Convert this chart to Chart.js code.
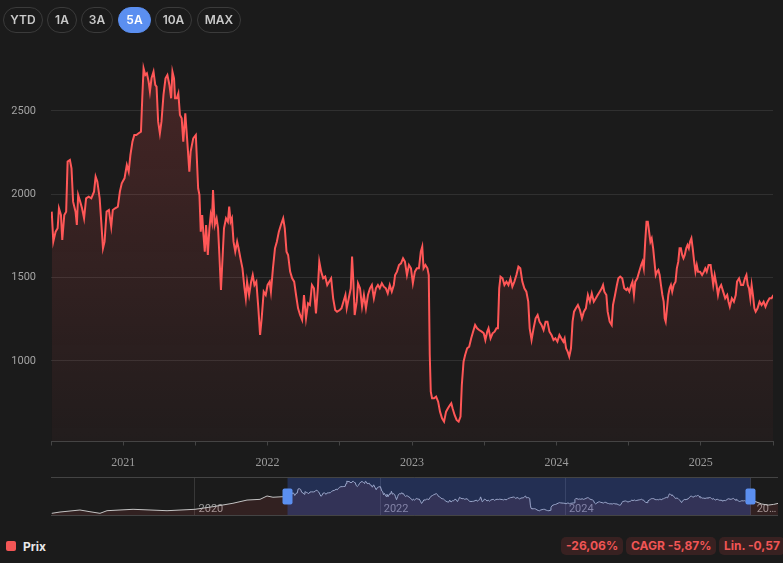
<!DOCTYPE html>
<html>
<head>
<meta charset="utf-8">
<script src="https://cdn.jsdelivr.net/npm/chart.js@4.4.1/dist/chart.umd.min.js"></script>
<style>
  html, body { margin: 0; padding: 0; background: #1b1b1b; }
  body { width: 783px; height: 563px; position: relative; overflow: hidden; font-family: Inter, Roboto, sans-serif; }
  canvas { position: absolute; left: 0; }
  #main { top: 0; }
  #nav { top: 470px; }
  .btn { position: absolute; top: 7px; height: 26px; box-sizing: border-box; border: 1px solid #3b3b3b; border-radius: 13px;
         color: #c9c9c9; font-size: 12px; font-weight: 600; text-align: center; line-height: 24px; }
  .btn.on { background: #5b8ff0; border-color: #5b8ff0; color: #fff; }
  .legend { position: absolute; left: 6px; top: 538px; height: 16px; display: flex; align-items: center; color: #e8e8e8; font-size: 12px; font-weight: 700; }
  .legend .sw { width: 10px; height: 10px; border-radius: 2px; background: #f25555; margin-right: 7px; }
  .badge { position: absolute; top: 537px; height: 18px; line-height: 18px; padding: 0 5px; border-radius: 5px;
           background: rgba(255, 80, 80, 0.13); color: #f05555; font-size: 12px; font-weight: 700; white-space: nowrap; }
</style>
</head>
<body>
<canvas id="main" width="783" height="470"></canvas>
<canvas id="nav" width="783" height="55"></canvas>
<script>
// ---- range buttons / stats ----
let rangeButtons = ['YTD', '1A', '3A', '5A', '10A', 'MAX'];
let activeRange = '5A';
let stats = ['-26,06%', 'CAGR -5,87%', 'Lin. -0,57'];
let seriesName = 'Prix';

// ---- visible window (decimal years) ----
let viewMin = 2020.5;
let viewMax = 2025.5;

// x ticks of the main chart (half years, labels on the years)
let xTickValues = [2020.5, 2021, 2021.5, 2022, 2022.5, 2023, 2023.5, 2024, 2024.5, 2025, 2025.5];
let xTickLabels = ['', '2021', '', '2022', '', '2023', '', '2024', '', '2025', ''];
// y ticks
let yTickValues = [1000, 1500, 2000, 2500];

// ---- price, 5A window ----
let prixT = [
  2020.505,2020.516,2020.532,2020.546,2020.555,2020.569,2020.578,2020.592,2020.605,2020.615,
  2020.631,2020.642,2020.653,2020.670,2020.679,2020.688,2020.702,2020.715,2020.729,2020.743,
  2020.761,2020.779,2020.798,2020.809,2020.821,2020.837,2020.848,2020.860,2020.871,2020.885,
  2020.901,2020.917,2020.928,2020.944,2020.963,2020.977,2020.990,2021.009,2021.025,2021.038,
  2021.050,2021.064,2021.077,2021.091,2021.107,2021.123,2021.132,2021.141,2021.153,2021.164,
  2021.176,2021.185,2021.196,2021.210,2021.222,2021.231,2021.242,2021.254,2021.265,2021.279,
  2021.293,2021.306,2021.320,2021.332,2021.341,2021.352,2021.359,2021.371,2021.382,2021.393,
  2021.405,2021.416,2021.430,2021.444,2021.458,2021.467,2021.485,2021.503,
  2021.519,2021.528,2021.537,2021.547,2021.556,2021.565,2021.574,2021.586,2021.597,2021.606,
  2021.615,2021.622,2021.634,2021.647,2021.657,2021.666,2021.677,2021.689,2021.698,2021.712,
  2021.725,2021.734,2021.744,2021.753,2021.764,2021.776,2021.789,2021.799,2021.812,2021.826,
  2021.840,2021.849,2021.858,2021.872,2021.886,2021.897,2021.909,2021.922,2021.936,2021.948,
  2021.959,2021.973,2021.987,2022.000,2022.014,2022.023,2022.037,2022.051,2022.064,2022.078,
  2022.092,2022.108,2022.119,2022.131,2022.142,2022.156,2022.170,2022.184,2022.197,2022.211,
  2022.225,2022.239,2022.252,2022.266,2022.280,2022.293,2022.307,2022.321,2022.335,2022.348,
  2022.358,2022.371,2022.385,2022.399,2022.413,2022.426,2022.440,2022.454,2022.468,2022.481,
  2022.500,
  2022.512,2022.525,2022.539,2022.548,2022.562,2022.576,2022.585,2022.594,2022.603,2022.617,
  2022.626,2022.640,2022.654,2022.667,2022.681,2022.695,2022.709,2022.722,2022.736,2022.750,
  2022.764,2022.777,2022.791,2022.805,2022.819,2022.832,2022.846,2022.860,2022.874,2022.883,
  2022.896,2022.910,2022.924,2022.938,2022.951,2022.965,2022.979,2022.993,2023.006,2023.020,
  2023.034,2023.048,2023.061,2023.071,2023.080,2023.093,2023.107,2023.116,2023.123,2023.130,
  2023.139,2023.153,2023.167,2023.181,2023.194,2023.208,2023.222,2023.236,2023.249,2023.263,
  2023.272,2023.281,2023.295,2023.309,2023.323,2023.336,2023.345,2023.357,2023.368,2023.382,
  2023.396,2023.410,2023.423,2023.437,2023.451,2023.465,2023.483,2023.497,
  2023.508,2023.521,2023.530,2023.544,2023.558,2023.572,2023.585,2023.595,2023.604,2023.613,
  2023.627,2023.640,2023.654,2023.668,2023.682,2023.695,2023.709,2023.723,2023.737,2023.750,
  2023.764,2023.778,2023.792,2023.805,2023.815,2023.828,2023.842,2023.856,2023.870,2023.883,
  2023.897,2023.911,2023.925,2023.938,2023.952,2023.966,2023.980,2023.993,2024.007,2024.021,
  2024.034,2024.048,2024.057,2024.067,2024.078,2024.089,2024.101,2024.112,2024.122,2024.135,
  2024.149,2024.163,2024.177,2024.190,2024.204,2024.218,2024.232,2024.245,2024.259,2024.273,
  2024.286,2024.300,2024.314,2024.323,2024.332,2024.346,2024.355,2024.369,2024.383,2024.392,
  2024.406,2024.419,2024.429,2024.442,2024.456,2024.470,2024.484,2024.493,
  2024.505,2024.518,2024.527,2024.537,2024.546,2024.560,2024.573,2024.587,2024.596,2024.605,
  2024.615,2024.624,2024.633,2024.642,2024.651,2024.660,2024.670,2024.679,2024.688,2024.697,
  2024.706,2024.715,2024.724,2024.734,2024.743,2024.750,2024.757,2024.766,2024.775,2024.784,
  2024.793,2024.802,2024.812,2024.825,2024.834,2024.844,2024.853,2024.862,2024.871,2024.880,
  2024.889,2024.899,2024.908,2024.917,2024.926,2024.935,2024.944,2024.954,2024.963,2024.972,
  2024.981,2024.995,2025.009,2025.022,2025.031,2025.041,2025.054,2025.068,2025.077,2025.086,
  2025.096,2025.109,2025.119,2025.128,2025.141,2025.155,2025.169,2025.183,2025.192,2025.201,
  2025.215,2025.229,2025.242,2025.251,2025.265,2025.279,2025.293,2025.306,2025.316,2025.325,
  2025.334,2025.343,2025.352,2025.361,2025.371,2025.380,2025.393,2025.407,2025.421,2025.435,
  2025.448,2025.462,2025.476,2025.490,2025.503
];
let prixV = [
  1896,1716,1776,1796,1916,1876,1726,1876,1896,2196,
  2206,2156,1956,1896,1816,1996,1956,1916,1856,1976,
  1986,1976,2016,2106,2076,1976,1836,1676,1716,1896,
  1906,1806,1906,1916,1926,2016,2066,2096,2176,2136,
  2236,2316,2356,2356,2366,2376,2576,2756,2716,2726,
  2676,2616,2696,2736,2656,2646,2436,2366,2436,2596,
  2696,2716,2656,2576,2736,2696,2576,2576,2606,2476,
  2456,2316,2486,2316,2136,2256,2336,2356,
  2036,1996,1776,1876,1756,1656,1816,1636,1796,1876,
  1836,2026,1816,1856,1796,1636,1426,1636,1796,1856,
  1836,1926,1836,1856,1716,1656,1716,1676,1616,1556,
  1436,1376,1476,1396,1476,1516,1456,1476,1316,1156,
  1256,1416,1396,1456,1476,1416,1556,1676,1716,1776,
  1816,1856,1796,1656,1636,1536,1496,1476,1396,1316,
  1276,1246,1396,1256,1346,1336,1456,1436,1286,1436,
  1596,1536,1496,1506,1456,1476,1496,1376,1306,1296,
  1306,
  1316,1356,1396,1316,1376,1436,1626,1476,1276,1356,
  1466,1436,1326,1396,1316,1396,1436,1456,1376,1436,
  1456,1436,1466,1446,1436,1406,1456,1416,1456,1516,
  1536,1576,1586,1616,1596,1516,1576,1556,1466,1536,
  1556,1556,1656,1686,1556,1576,1556,1516,1036,816,
  776,776,786,756,696,656,636,696,716,736,
  746,716,676,646,636,666,856,996,1036,1076,
  1086,1136,1176,1216,1196,1186,1176,1166,
  1126,1176,1196,1136,1166,1176,1196,1196,1436,1506,
  1496,1456,1476,1456,1496,1446,1476,1516,1566,1556,
  1476,1436,1416,1356,1196,1126,1196,1256,1276,1236,
  1216,1186,1236,1236,1176,1156,1126,1136,1116,1156,
  1136,1116,1136,1076,1056,1026,1076,1236,1296,1316,
  1336,1306,1256,1296,1316,1396,1356,1406,1356,1376,
  1396,1416,1436,1456,1416,1396,1296,1236,1216,1336,
  1396,1456,1496,1506,1496,1436,1426,1436,
  1416,1456,1476,1396,1476,1496,1536,1576,1596,1556,
  1716,1836,1836,1776,1716,1736,1676,1596,1516,1536,
  1546,1516,1456,1396,1356,1256,1236,1316,1396,1436,
  1456,1416,1456,1476,1556,1596,1676,1676,1636,1616,
  1636,1676,1696,1676,1716,1736,1676,1596,1536,1576,
  1536,1536,1516,1536,1556,1536,1576,1576,1516,1456,
  1516,1456,1396,1436,1456,1416,1376,1396,1356,1326,
  1376,1356,1396,1476,1496,1456,1456,1496,1516,1456,
  1436,1376,1456,1396,1316,1296,1316,1356,1336,1356,
  1326,1356,1376,1376,1396
];

// ---- longer history, only seen in the navigator ----
let histT = [2017.954, 2018.043, 2018.259, 2018.367, 2018.475, 2018.551, 2018.832, 2019.199,
             2019.501, 2019.695, 2019.911, 2020.063, 2020.203, 2020.279, 2020.343, 2020.451];
let histV = [453, 546, 690, 567, 453, 640, 740, 640, 740, 925, 1170, 1400, 1450, 1690, 1600, 1640];
let tailT = [2025.55, 2025.62, 2025.69, 2025.75, 2025.797];
let tailV = [1300, 1120, 1040, 1090, 1160];

// navigator axis
let navMin = 2017.946;
let navMax = 2025.797;
let navTickValues = [2019.5, 2021.5, 2023.5, 2025.5];
let navTickLabels = ['2020', '2022', '2024', '20\u2026'];

// ---- colours ----
const lineRed = '#ff5757';
const gridCol = '#303030';
const axisCol = '#444444';
const blue = '#5b8ff0';

// ---- html bits ----
let btnLeft = [3, 47, 81, 118, 155, 197];
let btnWidth = [40, 30, 32, 33, 37, 44];
rangeButtons.forEach((b, i) => {
  let el = document.createElement('div');
  el.className = 'btn' + (b === activeRange ? ' on' : '');
  el.style.left = btnLeft[i] + 'px';
  el.style.width = btnWidth[i] + 'px';
  el.textContent = b;
  document.body.appendChild(el);
});

let leg = document.createElement('div');
leg.className = 'legend';
leg.innerHTML = '<span class="sw"></span><span></span>';
leg.lastChild.textContent = seriesName;
document.body.appendChild(leg);

let badgeLeft = [561, 626, 719];
stats.forEach((s, i) => {
  let el = document.createElement('div');
  el.className = 'badge';
  el.style.left = badgeLeft[i] + 'px';
  el.textContent = s;
  document.body.appendChild(el);
});

// --------------------------------
Chart.defaults.font.family = 'Roboto';

let mainPoints = prixT.map((t, i) => ({ x: t, y: prixV[i] }));

new Chart(document.getElementById('main'), {
  type: 'line',
  data: {
    datasets: [{
      label: seriesName,
      data: mainPoints,
      borderColor: lineRed,
      borderWidth: 2,
      pointRadius: 0,
      tension: 0,
      fill: 'start',
      backgroundColor: (c) => {
        let area = c.chart.chartArea;
        if (!area) return 'rgba(255,85,85,0.1)';
        let g = c.chart.ctx.createLinearGradient(0, area.top, 0, area.bottom);
        g.addColorStop(0, 'rgba(255,85,85,0.20)');
        g.addColorStop(1, 'rgba(255,85,85,0.03)');
        return g;
      }
    }]
  },
  options: {
    responsive: false,
    animation: false,
    layout: { padding: { top: 44.3, right: 5, left: 0, bottom: 0 } },
    plugins: { legend: { display: false }, tooltip: { enabled: false } },
    scales: {
      x: {
        type: 'linear',
        min: viewMin,
        max: viewMax,
        afterBuildTicks: (s) => { s.ticks = xTickValues.map(v => ({ value: v })); },
        afterFit: (s) => { s.height = 28.5; },
        ticks: {
          autoSkip: false, maxRotation: 0, padding: 10, color: '#9c9c9c',
          font: { family: 'Liberation Sans Narrow', size: 12 },
          callback: (v, i) => xTickLabels[i]
        },
        grid: { display: true, drawOnChartArea: false, drawTicks: true, tickLength: 4, color: axisCol },
        border: { display: true, color: axisCol }
      },
      y: {
        min: 517,
        max: 2900,
        afterBuildTicks: (s) => { s.ticks = yTickValues.map(v => ({ value: v })); },
        afterFit: (s) => { s.width = 51; },
        ticks: { padding: 15, color: '#a3a3a3', font: { size: 11 }, callback: (v) => String(v) },
        grid: { color: gridCol, drawTicks: false },
        border: { display: false }
      }
    }
  }
});

// ---- navigator ----
let navPoints = histT.map((t, i) => ({ x: t, y: histV[i] }))
  .concat(mainPoints)
  .concat(tailT.map((t, i) => ({ x: t, y: tailV[i] })));

const navMask = {
  id: 'navMask',
  afterDraw(chart) {
    let { ctx, chartArea: a, scales: { x } } = chart;
    let x0 = x.getPixelForValue(viewMin);
    let x1 = x.getPixelForValue(viewMax);
    ctx.save();
    ctx.fillStyle = 'rgba(55,95,215,0.30)';
    ctx.fillRect(x0, a.top, x1 - x0, a.bottom - a.top);
    ctx.strokeStyle = axisCol;
    ctx.lineWidth = 1;
    ctx.beginPath();
    ctx.moveTo(a.left, a.top + 0.5); ctx.lineTo(a.right, a.top + 0.5);
    ctx.moveTo(a.left, a.bottom - 0.5); ctx.lineTo(a.right, a.bottom - 0.5);
    ctx.stroke();
    let cy = (a.top + a.bottom) / 2;
    [x0, x1].forEach(px => {
      ctx.fillStyle = blue;
      ctx.beginPath();
      ctx.roundRect(px - 5, cy - 8, 10, 16, 2);
      ctx.fill();
    });
    ctx.restore();
  }
};

new Chart(document.getElementById('nav'), {
  type: 'line',
  data: {
    datasets: [{
      data: navPoints,
      borderColor: '#c4c4c4',
      borderWidth: 1,
      pointRadius: 0,
      tension: 0,
      fill: 'start',
      backgroundColor: 'rgba(255,85,85,0.10)'
    }]
  },
  options: {
    responsive: false,
    animation: false,
    layout: { padding: { top: 7, right: 5, left: 51, bottom: 9 } },
    plugins: { legend: { display: false }, tooltip: { enabled: false } },
    scales: {
      x: {
        type: 'linear',
        min: navMin,
        max: navMax,
        afterBuildTicks: (s) => { s.ticks = navTickValues.map(v => ({ value: v })); },
        afterFit: (s) => { s.height = 0; },
        ticks: {
          autoSkip: false, maxRotation: 0, mirror: true, padding: 0, labelOffset: 16, color: '#9a9a9a',
          font: { size: 11 },
          callback: (v, i) => navTickLabels[i]
        },
        grid: { color: '#383838', drawTicks: false },
        border: { display: false }
      },
      y: { display: false, min: 262, max: 3045 }
    }
  },
  plugins: [navMask]
});
</script>
</body>
</html>
